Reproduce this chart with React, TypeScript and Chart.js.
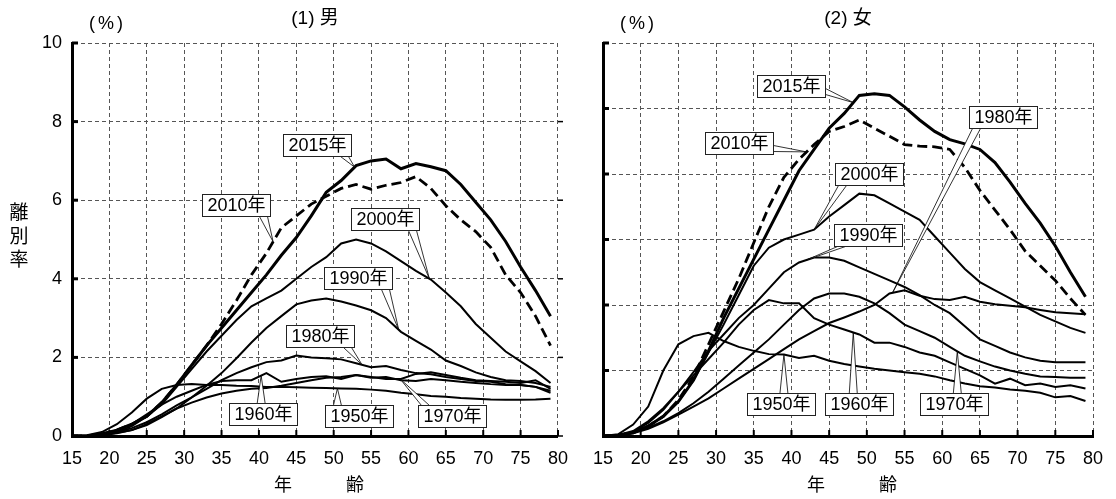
import { useEffect, useRef } from 'react';
import { Chart, registerables } from 'chart.js';

Chart.register(...registerables);

const FONT = "'Liberation Sans', 'Noto Sans CJK JP', 'Noto Sans CJK SC', sans-serif";

// ---------------- data ----------------
const ages = [15, 17, 19, 21, 23, 25, 27, 29, 31, 33, 35, 37, 39, 41, 43, 45, 47, 49, 51, 53, 55, 57, 59, 61, 63, 65, 67, 69, 71, 73, 75, 77, 79];
const years = ['1950年', '1960年', '1970年', '1980年', '1990年', '2000年', '2010年', '2015年'];
const xTicks = [15, 20, 25, 30, 35, 40, 45, 50, 55, 60, 65, 70, 75, 80];

const male1950 = [0, 0.02, 0.1, 0.3, 0.6, 0.95, 1.2, 1.3, 1.32, 1.3, 1.3, 1.28, 1.27, 1.25, 1.25, 1.24, 1.23, 1.22, 1.21, 1.2, 1.18, 1.15, 1.1, 1.06, 1.02, 1.0, 0.97, 0.95, 0.93, 0.92, 0.92, 0.93, 0.95];
const male1960 = [0, 0, 0.04, 0.15, 0.3, 0.55, 0.8, 1.0, 1.15, 1.3, 1.4, 1.42, 1.42, 1.6, 1.38, 1.45, 1.5, 1.52, 1.45, 1.55, 1.48, 1.5, 1.42, 1.4, 1.45, 1.42, 1.38, 1.35, 1.32, 1.3, 1.3, 1.25, 1.1];
const male1970 = [0, 0, 0.02, 0.07, 0.15, 0.3, 0.5, 0.7, 0.85, 0.98, 1.08, 1.15, 1.2, 1.22, 1.28, 1.35, 1.42, 1.48, 1.5, 1.55, 1.5, 1.45, 1.45, 1.58, 1.62, 1.55, 1.48, 1.42, 1.4, 1.38, 1.35, 1.42, 1.2];
const male1980 = [0, 0, 0.03, 0.1, 0.2, 0.35, 0.55, 0.78, 0.98, 1.2, 1.42, 1.6, 1.75, 1.88, 1.92, 2.05, 2.0, 1.98, 1.95, 1.85, 1.75, 1.78, 1.68, 1.6, 1.57, 1.5, 1.45, 1.4, 1.38, 1.32, 1.3, 1.25, 1.15];
const male1990 = [0, 0, 0.02, 0.08, 0.15, 0.28, 0.48, 0.7, 0.98, 1.28, 1.6, 1.98, 2.38, 2.75, 3.05, 3.35, 3.45, 3.5, 3.42, 3.32, 3.2, 3.0, 2.65, 2.42, 2.2, 1.92, 1.78, 1.62, 1.5, 1.42, 1.4, 1.35, 1.25];
const male2000 = [0, 0, 0.03, 0.1, 0.25, 0.5, 0.8, 1.25, 1.7, 2.15, 2.55, 2.95, 3.3, 3.5, 3.7, 4.0, 4.3, 4.55, 4.9, 5.0, 4.9, 4.7, 4.45, 4.2, 3.98, 3.65, 3.3, 2.85, 2.5, 2.15, 1.9, 1.65, 1.35];
const male2010 = [0, 0, 0.05, 0.15, 0.3, 0.5, 0.85, 1.3, 1.8, 2.3, 2.85, 3.45, 4.1, 4.65, 5.3, 5.6, 5.9, 6.1, 6.3, 6.4, 6.28, 6.38, 6.45, 6.6, 6.3, 5.86, 5.5, 5.2, 4.8, 4.1, 3.65, 3.05, 2.3];
const male2015 = [0, 0, 0.05, 0.15, 0.3, 0.5, 0.85, 1.3, 1.8, 2.3, 2.75, 3.2, 3.65, 4.1, 4.6, 5.05, 5.6, 6.2, 6.5, 6.88, 7.0, 7.05, 6.8, 6.93, 6.85, 6.75, 6.4, 5.95, 5.5, 4.95, 4.3, 3.7, 3.05];

const female1950 = [0, 0.05, 0.35, 0.9, 2.0, 2.8, 3.05, 3.15, 2.9, 2.72, 2.6, 2.5, 2.49, 2.38, 2.45, 2.3, 2.2, 2.12, 2.05, 2.0, 1.95, 1.9, 1.82, 1.7, 1.6, 1.52, 1.48, 1.42, 1.38, 1.32, 1.18, 1.22, 1.07];
const female1960 = [0, 0.03, 0.15, 0.45, 0.85, 1.35, 1.85, 2.35, 2.85, 3.4, 3.85, 4.15, 4.05, 4.05, 3.6, 3.4, 3.25, 3.1, 2.85, 2.85, 2.72, 2.55, 2.45, 2.25, 2.05, 1.85, 1.6, 1.75, 1.55, 1.6, 1.5, 1.55, 1.45];
const female1970 = [0, 0.02, 0.1, 0.25, 0.45, 0.7, 1.0, 1.35, 1.75, 2.15, 2.55, 2.95, 3.4, 3.85, 4.2, 4.35, 4.35, 4.25, 4.05, 3.75, 3.4, 3.2, 3.0, 2.72, 2.45, 2.28, 2.12, 2.0, 1.9, 1.82, 1.8, 1.78, 1.78];
const female1980 = [0, 0.02, 0.08, 0.22, 0.42, 0.65, 0.9, 1.15, 1.45, 1.75, 2.05, 2.35, 2.65, 2.95, 3.2, 3.45, 3.62, 3.8, 4.0, 4.35, 4.45, 4.28, 4.18, 4.15, 4.25, 4.1, 4.02, 3.98, 3.93, 3.85, 3.78, 3.75, 3.72];
const female1990 = [0, 0.02, 0.12, 0.4, 0.8, 1.35, 1.95, 2.6, 3.1, 3.6, 4.0, 4.5, 5.0, 5.3, 5.45, 5.45, 5.35, 5.15, 4.95, 4.75, 4.55, 4.3, 4.0, 3.75, 3.35, 2.95, 2.75, 2.55, 2.4, 2.3, 2.25, 2.25, 2.25];
const female2000 = [0, 0.02, 0.1, 0.3, 0.6, 1.05, 1.7, 2.55, 3.4, 4.3, 5.2, 5.75, 6.0, 6.15, 6.3, 6.7, 7.05, 7.4, 7.35, 7.1, 6.85, 6.6, 6.1, 5.6, 5.1, 4.7, 4.45, 4.2, 3.95, 3.7, 3.5, 3.3, 3.15];
const female2010 = [0, 0.02, 0.1, 0.3, 0.6, 1.1, 1.8, 2.8, 3.8, 4.8, 5.9, 7.0, 7.9, 8.45, 8.9, 9.3, 9.45, 9.65, 9.4, 9.15, 8.9, 8.85, 8.83, 8.75, 8.2, 7.5, 6.9, 6.3, 5.65, 5.2, 4.75, 4.2, 3.7];
const female2015 = [0, 0.02, 0.1, 0.3, 0.6, 1.05, 1.7, 2.6, 3.6, 4.5, 5.4, 6.3, 7.2, 8.1, 8.75, 9.4, 9.85, 10.4, 10.45, 10.4, 10.05, 9.65, 9.3, 9.05, 8.92, 8.75, 8.35, 7.75, 7.1, 6.5, 5.8, 5.0, 4.25];

const maleSeries = [male1950, male1960, male1970, male1980, male1990, male2000, male2010, male2015];
const femaleSeries = [female1950, female1960, female1970, female1980, female1990, female2000, female2010, female2015];

// callouts: label centre (age, value), series index order = years, age the pointer touches
const maleCalloutAge = [53.4, 40.6, 65.8, 48.2, 53.3, 56.8, 37.0, 47.8];
const maleCalloutValue = [0.5, 0.55, 0.5, 2.54, 4.03, 5.52, 5.87, 7.4];
const maleTipAge = [50.5, 40.3, 58.9, 53.8, 58.7, 62.8, 41.9, 52.8];
const femaleCalloutAge = [38.6, 49.0, 61.6, 68.0, 50.1, 50.3, 33.0, 39.9];
const femaleCalloutValue = [0.97, 0.97, 0.97, 9.73, 6.13, 8.0, 8.95, 10.68];
const femaleTipAge = [39, 48.2, 62, 53.4, 42, 43, 42, 48.2];

// ---------------- helpers ----------------
type Panel = {
  series: number[][];
  yMax: number;
  showYLabels: boolean;
  yAxisWidth: number;
  padRight: number;
  title: string;
  rightTicks: boolean;
  yTitle: boolean;
  cAge: number[];
  cVal: number[];
  tAge: number[];
};

function valueAt(vals: number[], age: number): number {
  for (let i = 0; i < ages.length - 1; i++) {
    if (age >= ages[i] && age <= ages[i + 1]) {
      const f = (age - ages[i]) / (ages[i + 1] - ages[i]);
      return vals[i] + f * (vals[i + 1] - vals[i]);
    }
  }
  return vals[vals.length - 1];
}

function line(ctx: CanvasRenderingContext2D, x1: number, y1: number, x2: number, y2: number) {
  ctx.beginPath();
  ctx.moveTo(x1, y1);
  ctx.lineTo(x2, y2);
  ctx.stroke();
}

function drawCallout(ctx: CanvasRenderingContext2D, text: string, cx: number, cy: number, tx: number, ty: number) {
  ctx.font = `18px ${FONT}`;
  const w = Math.round(ctx.measureText(text).width + 10);
  const h = 22;
  const l = Math.round(cx - w / 2) + 0.5;
  const t = Math.round(cy - h / 2) + 0.5;
  const r = l + w;
  const b = t + h;
  const dx = (tx - cx) / (w / 2);
  const dy = (ty - cy) / (h / 2);
  let p1: [number, number];
  let p2: [number, number];
  const clamp = (v: number, a: number, z: number) => Math.max(a, Math.min(z, v));
  if (Math.abs(dy) >= Math.abs(dx)) {
    const ax = clamp(tx, l + 7, r - 7);
    const ey = dy > 0 ? b : t;
    p1 = [ax - 4, ey];
    p2 = [ax + 4, ey];
  } else {
    const ay = clamp(ty, t + 6, b - 6);
    const ex = dx > 0 ? r : l;
    p1 = [ex, ay - 3];
    p2 = [ex, ay + 3];
  }
  ctx.save();
  ctx.lineWidth = 0.8;
  ctx.strokeStyle = '#000';
  ctx.fillStyle = '#fff';
  ctx.beginPath();
  ctx.moveTo(p1[0], p1[1]);
  ctx.lineTo(tx, ty);
  ctx.lineTo(p2[0], p2[1]);
  ctx.closePath();
  ctx.fill();
  ctx.stroke();
  ctx.fillRect(l, t, w, h);
  ctx.lineWidth = 1;
  ctx.strokeStyle = '#222';
  ctx.strokeRect(l, t, w, h);
  ctx.fillStyle = '#000';
  ctx.textAlign = 'center';
  ctx.textBaseline = 'middle';
  ctx.fillText(text, (l + r) / 2, (t + b) / 2 + 1);
  ctx.restore();
}

function decor(p: Panel) {
  return {
    id: 'decor',
    afterDraw(chart: any) {
      const ctx: CanvasRenderingContext2D = chart.ctx;
      const ca = chart.chartArea;
      const xs = chart.scales.x;
      const ys = chart.scales.y;
      ctx.save();
      ctx.strokeStyle = '#000';
      ctx.lineWidth = 3;
      for (let v = 0; v <= p.yMax; v += 2) {
        const py = ys.getPixelForValue(v);
        line(ctx, ca.left, py, ca.left + 6, py);
      }
      ctx.lineWidth = 2;
      for (const a of xTicks) {
        const px = xs.getPixelForValue(a);
        line(ctx, px, ca.bottom, px, ca.bottom - 6);
      }
      if (p.rightTicks) {
        ctx.lineWidth = 1.5;
        for (let v = 0; v < p.yMax; v += 2) {
          const py = ys.getPixelForValue(v);
          line(ctx, ca.right, py, ca.right + 5, py);
        }
      }
      const cxm = (ca.left + ca.right) / 2;
      ctx.fillStyle = '#000';
      ctx.textAlign = 'center';
      ctx.textBaseline = 'middle';
      ctx.font = `19px ${FONT}`;
      ctx.fillText(p.title, cxm, 19);
      ctx.font = `18px ${FONT}`;
      const px0 = ca.left + 34;
      ctx.fillText('(', px0 - 14, 24);
      ctx.fillText('%', px0, 24);
      ctx.fillText(')', px0 + 14, 24);
      ctx.fillText('年　　　齢', cxm + 4, 486);
      if (p.yTitle) {
        ctx.font = `19px ${FONT}`;
        ['離', '別', '率'].forEach((ch, i) => ctx.fillText(ch, 19, 214 + i * 23.5));
      }
      ctx.restore();

      p.cAge.forEach((age, i) => {
        const cx = xs.getPixelForValue(age);
        const cy = ys.getPixelForValue(p.cVal[i]);
        const tx = xs.getPixelForValue(p.tAge[i]);
        const ty = ys.getPixelForValue(valueAt(p.series[i], p.tAge[i]));
        drawCallout(ctx, years[i], cx, cy, tx, ty);
      });
    },
  };
}

function buildConfig(p: Panel): any {
  const datasets = p.series.map((vals, i) => ({
    label: years[i],
    data: ages.map((a, j) => ({ x: a, y: vals[j] })),
    borderColor: '#000',
    borderWidth: i === 7 ? 3 : i === 6 ? 2.8 : 2,
    borderDash: i === 6 ? [10, 5] : [],
    pointRadius: 0,
    fill: false,
    tension: 0,
  }));
  return {
    type: 'line',
    data: { datasets },
    options: {
      responsive: false,
      animation: false,
      layout: { padding: { top: 43, right: p.padRight, left: 0, bottom: 0 } },
      plugins: { legend: { display: false }, tooltip: { enabled: false }, title: { display: false } },
      scales: {
        x: {
          type: 'linear',
          min: 15,
          max: 80,
          ticks: { stepSize: 5, color: '#000', font: { size: 18, family: FONT }, padding: 12, maxRotation: 0, autoSkip: false },
          grid: { color: '#555', lineWidth: 1, drawTicks: false },
          border: { display: true, color: '#000', width: 3, dash: [4, 3] },
          afterFit: (s: any) => { s.height = 63; },
        },
        y: {
          type: 'linear',
          min: 0,
          max: p.yMax,
          ticks: { stepSize: 2, display: p.showYLabels, color: '#000', font: { size: 18, family: FONT }, padding: 10 },
          grid: { color: '#555', lineWidth: 1, drawTicks: false },
          border: { display: true, color: '#000', width: 3, dash: [4, 3] },
          afterFit: (s: any) => { s.width = p.yAxisWidth; },
        },
      },
    },
    plugins: [decor(p)],
  };
}

const malePanel: Panel = {
  series: maleSeries,
  yMax: 10,
  showYLabels: true,
  yAxisWidth: 72,
  padRight: 19,
  title: '(1) 男',
  rightTicks: true,
  yTitle: true,
  cAge: maleCalloutAge,
  cVal: maleCalloutValue,
  tAge: maleTipAge,
};

const femalePanel: Panel = {
  series: femaleSeries,
  yMax: 12,
  showYLabels: false,
  yAxisWidth: 23,
  padRight: 23,
  title: '(2) 女',
  rightTicks: false,
  yTitle: false,
  cAge: femaleCalloutAge,
  cVal: femaleCalloutValue,
  tAge: femaleTipAge,
};

export default function App() {
  const leftRef = useRef<HTMLCanvasElement>(null);
  const rightRef = useRef<HTMLCanvasElement>(null);
  useEffect(() => {
    Chart.defaults.font.family = FONT;
    const c1 = new Chart(leftRef.current as HTMLCanvasElement, buildConfig(malePanel));
    const c2 = new Chart(rightRef.current as HTMLCanvasElement, buildConfig(femalePanel));
    return () => {
      c1.destroy();
      c2.destroy();
    };
  }, []);
  return (
    <div style={{ position: 'absolute', left: 0, top: 0, width: 1116, height: 499, background: '#fff', overflow: 'hidden' }}>
      <canvas ref={leftRef} width={580} height={499} style={{ position: 'absolute', left: 0, top: 0, width: 580, height: 499 }} />
      <canvas ref={rightRef} width={536} height={499} style={{ position: 'absolute', left: 580, top: 0, width: 536, height: 499 }} />
    </div>
  );
}
